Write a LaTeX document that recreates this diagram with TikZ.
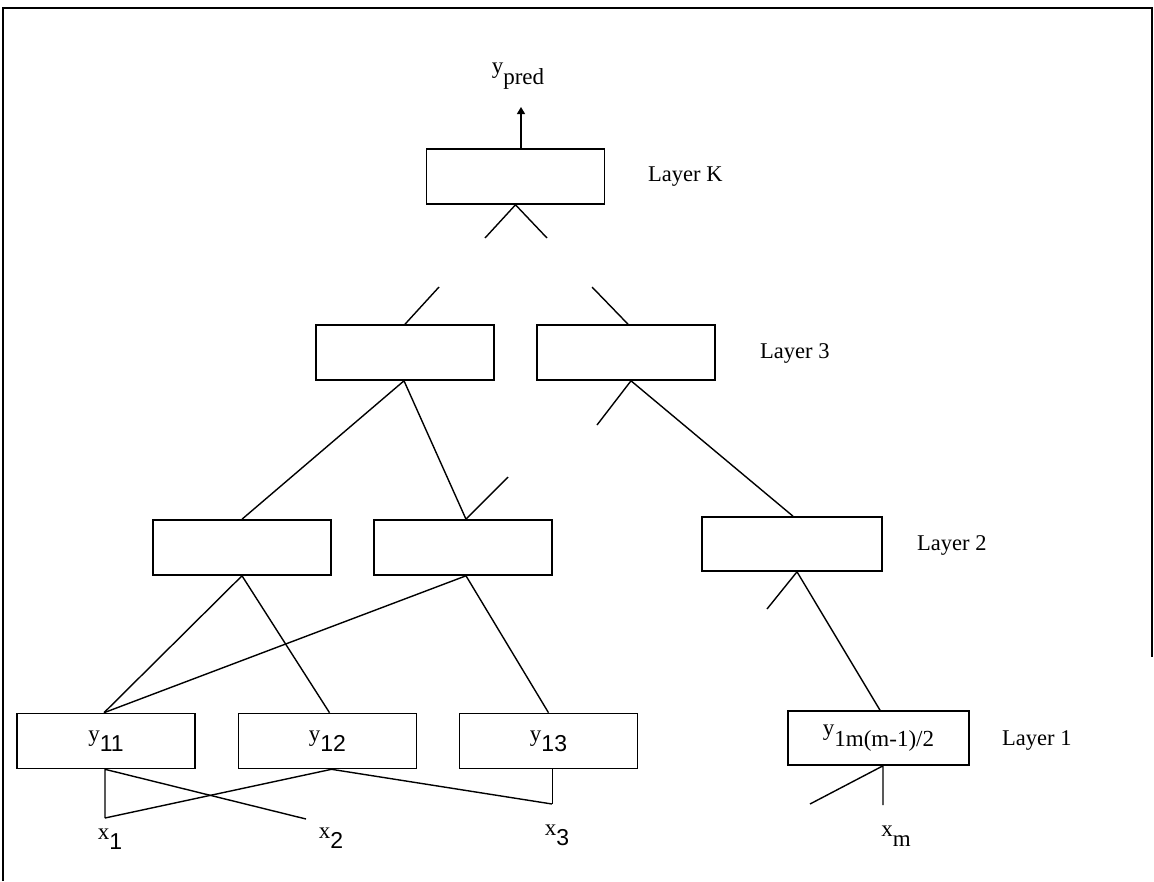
\documentclass[tikz,border=0pt]{standalone}
\usepackage{fontspec}
\setmainfont{Liberation Serif}
\newfontfamily\digitfont{Liberation Sans}
\usetikzlibrary{arrows.meta}
\newcommand\lsub[2]{#1\raisebox{-0.45em}{#2}}
\begin{document}
\begin{tikzpicture}[x=1pt,y=-1pt,
  unit/.style={draw,line width=1.6pt,minimum width=178pt,minimum height=55pt,inner sep=0pt,font=\fontsize{23}{25}\selectfont},
  conn/.style={line width=1.4pt},
  lab/.style={font=\fontsize{23}{25}\selectfont,inner sep=0pt},
  layerlab/.style={anchor=west,font=\fontsize{22.5}{24}\selectfont,inner sep=0pt}]
\useasboundingbox (0,0) rectangle (1154,881);
% frame
\draw[line width=1.8pt] (3,881) -- (3,8) -- (1152,8) -- (1152,657);
% boxes
\node[unit] (K) at (515.5,176.5) {};
\node[unit] (L3a) at (405,352.5) {};
\node[unit] (L3b) at (626,352.5) {};
\node[unit] (L2a) at (242,547.5) {};
\node[unit] (L2b) at (463,547.5) {};
\node[unit,minimum width=180pt,minimum height=54pt] (L2c) at (792,544) {};
\node[unit] (L1a) at (106,741) {\lsub{y}{\digitfont 11}};
\node[unit] (L1b) at (327.5,741) {\lsub{y}{\digitfont 12}};
\node[unit] (L1c) at (548.5,741) {\lsub{y}{\digitfont 13}};
\node[unit,minimum width=181pt,minimum height=54pt] (L1m) at (878.5,738) {\lsub{y}{1m(m-1)/2}};
% labels
\node[lab] (ypred) at (518,76) {\lsub{y}{pred}};
\node[lab] (x1) at (110,839) {\lsub{x}{\digitfont 1}};
\node[lab] (x2) at (331,838) {\lsub{x}{\digitfont 2}};
\node[lab] (x3) at (557,835) {\lsub{x}{\digitfont 3}};
\node[lab] (xm) at (896,836) {\lsub{x}{m}};
\node[layerlab] (labK) at (648,177) {Layer K};
\node[layerlab] (lab3) at (760,353) {Layer 3};
\node[layerlab] (lab2) at (917,545) {Layer 2};
\node[layerlab] (lab1) at (1002,740) {Layer 1};
% free ends
\coordinate (tip) at (521,107);
\coordinate (kl) at (485,238);
\coordinate (kr) at (547,238);
\coordinate (t3a) at (439,287);
\coordinate (t3b) at (592,287);
\coordinate (t2b) at (508,477);
\coordinate (b3b) at (597,425);
\coordinate (b2c) at (767,609);
\coordinate (e1) at (105,818);
\coordinate (e2) at (306,819);
\coordinate (e3) at (552,804);
\coordinate (em) at (883,805);
\coordinate (emd) at (810,804);
% connectors
\draw[conn,-{Triangle[width=8pt,length=7pt]}] ([xshift=5.5pt]K.north) -- (tip);
\draw[conn] (kl) -- (K.south) -- (kr);
\draw[conn] (L3a.north) -- (t3a);
\draw[conn] ([xshift=2pt]L3b.north) -- (t3b);
\draw[conn] (L2a.north) -- ([xshift=-1pt]L3a.south) -- ([xshift=3pt]L2b.north);
\draw[conn] ([xshift=3pt]L2b.north) -- (t2b);
\draw[conn] (b3b) -- ([xshift=5pt]L3b.south) -- ([xshift=1pt]L2c.north);
\draw[conn] ([xshift=-2pt]L1a.north) -- (L2a.south) -- ([xshift=2pt]L1b.north);
\draw[conn] ([xshift=-2pt]L1a.north) -- ([xshift=3pt]L2b.south) -- (L1c.north);
\draw[conn] (b2c) -- ([xshift=5pt]L2c.south) -- ([xshift=1.5pt]L1m.north);
\draw[conn] (e1) -- ([xshift=-1pt]L1a.south) -- (e2);
\draw[conn] (e1) -- ([xshift=4pt]L1b.south) -- (e3);
\draw[conn] ([xshift=4pt]L1c.south) -- ([xshift=4pt]L1c.south |- e3);
\draw[conn] (emd) -- ([xshift=4.5pt]L1m.south) -- (em);
\end{tikzpicture}
\end{document}
